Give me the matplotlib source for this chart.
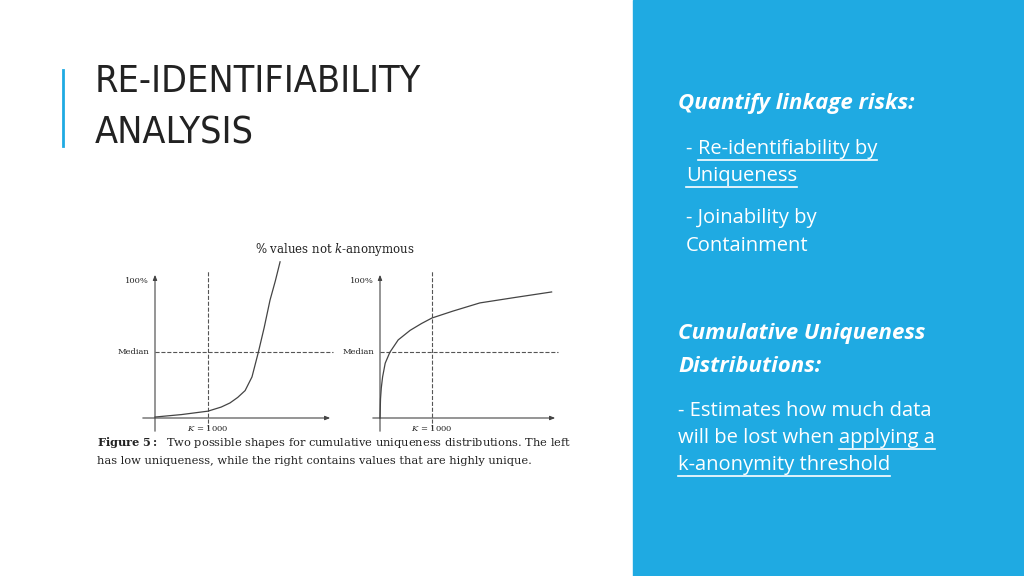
import matplotlib
matplotlib.use("Agg")
import matplotlib.pyplot as plt
from matplotlib.lines import Line2D
from matplotlib.patches import Rectangle

plt.rcParams["mathtext.fontset"] = "dejavuserif"

# curve samples (x in K units, y in % of the 100% mark)
left_x = [0, 500, 1000, 1250, 1415, 1560, 1700, 1830, 1950, 2060, 2170, 2270, 2360]
left_y = [0.7, 2.5, 5, 8, 11, 15, 20, 30, 48, 66, 86, 100, 114]
right_x = [0, 10, 25, 50, 100, 190, 350, 580, 800, 1000, 1400, 1920, 2600, 3300]
right_y = [0, 14, 22, 30, 40, 48, 57, 64, 69, 73, 78, 84, 88, 92]
k_value = 1000
median = 48

W, H = 1024, 576
fig = plt.figure(figsize=(W / 100, H / 100), dpi=100)
renderer = fig.canvas.get_renderer()
blue = "#1faae2"


def px(x, y):
    return x / W, 1 - y / H


def ftext(x, y, s, **kw):
    return fig.text(*px(x, y), s, **kw)


def uline(x0, x1, y):
    fig.add_artist(Line2D([x0 / W, x1 / W], [1 - y / H, 1 - y / H], color="white", lw=1.2))


def line_with_link(x, y, before, link, **kw):
    # plain text followed by an underlined part
    x_link = x
    if before:
        t = ftext(x, y, before, **kw)
        x_link = t.get_window_extent(renderer).x1
    t2 = fig.text(x_link / W, 1 - y / H, link, **kw)
    bb = t2.get_window_extent(renderer)
    uline(bb.x0, bb.x1, y + 11)


fig.add_artist(Rectangle(px(633, 576), (W - 633) / W, 1, color=blue, zorder=0))
fig.add_artist(Line2D([63 / W, 63 / W], [1 - 70 / H, 1 - 146 / H], color=blue, lw=2))

title_kw = dict(fontsize=27, family=["Liberation Sans Narrow", "DejaVu Sans Condensed", "DejaVu Sans"],
                fontstretch="condensed", color="#222222", va="center")
ftext(95, 82, "RE-IDENTIFIABILITY", **title_kw)
ftext(95, 134, "ANALYSIS", **title_kw)

side = dict(color="white", va="center", family="Open Sans", fontsize=14.5)
head = dict(color="white", va="center", family="Open Sans", fontsize=16, weight="bold", style="italic")
ftext(678, 103, "Quantify linkage risks:", **head)
line_with_link(686, 149, "- ", "Re-identifiability by", **side)
line_with_link(686, 176, "", "Uniqueness", **side)
ftext(686, 218, "- Joinability by", **side)
ftext(686, 246, "Containment", **side)
ftext(678, 334, "Cumulative Uniqueness", **head)
ftext(678, 366, "Distributions:", **head)
ftext(678, 411, "- Estimates how much data", **side)
line_with_link(678, 438, "will be lost when ", "applying a", **side)
line_with_link(678, 465, "", "k-anonymity threshold", **side)

serif = dict(family="DejaVu Serif", color="#222222")
ftext(335, 249, "% values not $k$-anonymous", fontsize=8.5, ha="center", va="center", **serif)
ftext(97, 442, r"$\mathbf{Figure\ 5{:}}$  Two possible shapes for cumulative uniqueness distributions. The left",
      fontsize=8.2, va="center", **serif)
ftext(97, 461, "has low uniqueness, while the right contains values that are highly unique.",
      fontsize=8.2, va="center", **serif)


def panel(x0, x1, xaxis_px, kscale, xs, ys):
    top, bot, base = 258, 434, 418
    yscale = 100 / 137
    ax = fig.add_axes([x0 / W, 1 - bot / H, (x1 - x0) / W, (bot - top) / H])
    ax.set_xlim((x0 - xaxis_px) * kscale, (x1 - xaxis_px) * kscale)
    ax.set_ylim((base - bot) * yscale, (base - top) * yscale)
    ax.axis("off")
    xmin, xmax = ax.get_xlim()
    ymin, ymax = ax.get_ylim()
    arrow = dict(arrowstyle="-|>,head_width=0.12,head_length=0.3", color="#444444", lw=0.8)
    ax.annotate("", xy=(xmax - 2 * kscale, 0), xytext=(xmin + 40 * kscale, 0), arrowprops=arrow)
    ax.annotate("", xy=(0, 100 + 9 * yscale), xytext=(0, ymin), arrowprops=arrow)
    ax.plot([k_value, k_value], [ymin + 4, 100 + 7], ls="--", color="#555555", lw=0.8)
    ax.plot([0, xmax - 2 * kscale], [median, median], ls="--", color="#555555", lw=0.8)
    ax.plot(xs, ys, color="#444444", lw=0.9)
    ax.text(k_value, -7, "$K$ = 1000", fontsize=6, ha="center", va="center", **serif)
    ax.text(-6 * kscale, 100, "100%", fontsize=6, ha="right", va="center", **serif)
    ax.text(-6 * kscale, median, "Median", fontsize=6, ha="right", va="center", **serif)


panel(100, 335, 155, 1000 / 53, left_x, left_y)
panel(330, 560, 380, 1000 / 52, right_x, right_y)

fig.savefig("out.png", dpi=100)
